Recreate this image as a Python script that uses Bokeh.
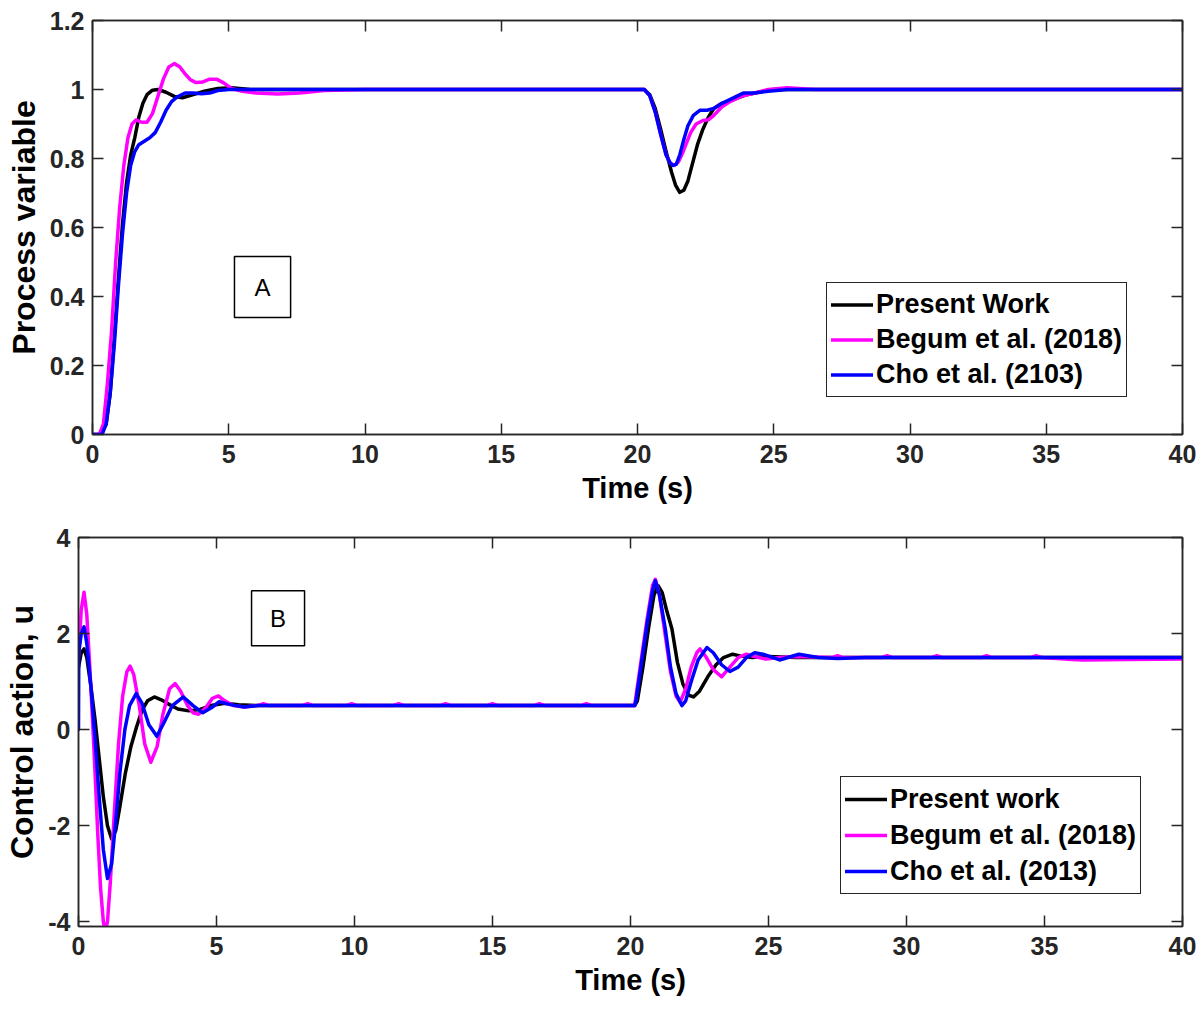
from bokeh.plotting import figure
from bokeh.models import (Range1d, FixedTicker, PrintfTickFormatter, LinearAxis,
                          Legend, LegendItem, BoxAnnotation, Label)
from bokeh.embed import file_html
from bokeh.resources import INLINE

# ---------------- data: panel A (process variable) ----------------
t_pv_pw = [0, 0.3, 0.5, 0.65, 0.8, 0.95, 1.1, 1.25, 1.4, 1.55, 1.7, 1.85, 2.0, 2.2, 2.4, 2.7, 3.0,
           3.3, 3.7, 4.1, 4.6, 5.1, 5.8, 7, 20.25, 20.45, 20.65, 20.85, 21.05, 21.25, 21.4, 21.55,
           21.7, 21.85, 22.0, 22.2, 22.4, 22.6, 22.8, 23.1, 23.5, 24.0, 24.5, 25.0, 26, 40]
pv_pw = [0, 0, 0.03, 0.12, 0.28, 0.45, 0.61, 0.73, 0.81, 0.86, 0.92, 0.96, 0.985, 0.998, 1.0, 0.992,
         0.98, 0.976, 0.985, 0.995, 1.003, 1.005, 1.0, 1.0, 1.0, 0.985, 0.945, 0.885, 0.82, 0.76,
         0.722, 0.702, 0.708, 0.735, 0.78, 0.84, 0.885, 0.92, 0.945, 0.96, 0.97, 0.985, 0.993,
         1.0, 1.0, 1.0]

t_pv_bg = [0, 0.25, 0.4, 0.55, 0.7, 0.85, 1.0, 1.15, 1.3, 1.45, 1.6, 1.8, 2.0, 2.2, 2.4, 2.6, 2.8,
           3.0, 3.2, 3.4, 3.6, 3.8, 4.05, 4.3, 4.55, 4.8, 5.1, 5.5, 6.0, 6.8, 7.6, 8.5, 10, 20.25,
           20.45, 20.65, 20.85, 21.05, 21.2, 21.35, 21.5, 21.65, 21.8, 21.95, 22.15, 22.4, 22.6,
           22.8, 23.1, 23.4, 23.8, 24.3, 24.8, 25.5, 26.5, 40]
pv_bg = [0, 0, 0.03, 0.15, 0.3, 0.5, 0.66, 0.78, 0.86, 0.9, 0.912, 0.905, 0.905, 0.93, 0.98, 1.03,
         1.065, 1.075, 1.066, 1.045, 1.028, 1.02, 1.022, 1.03, 1.03, 1.02, 1.003, 0.995, 0.99,
         0.987, 0.99, 0.997, 1.0, 1.0, 0.982, 0.935, 0.87, 0.81, 0.787, 0.78, 0.79, 0.815, 0.845,
         0.875, 0.9, 0.91, 0.912, 0.925, 0.95, 0.965, 0.98, 0.99, 1.0, 1.005, 1.0, 1.0]

t_pv_cho = [0, 0.35, 0.5, 0.65, 0.8, 0.95, 1.1, 1.25, 1.4, 1.55, 1.7, 1.9, 2.1, 2.3, 2.5, 2.7, 2.9,
            3.1, 3.4, 3.7, 4.0, 4.3, 4.6, 5.0, 6, 20.25, 20.45, 20.65, 20.85, 21.05, 21.2, 21.3,
            21.42, 21.55, 21.7, 21.85, 22.05, 22.3, 22.55, 22.8, 23.1, 23.5, 23.9, 24.3, 24.8,
            25.5, 40]
pv_cho = [0, 0, 0.03, 0.12, 0.26, 0.43, 0.58, 0.70, 0.78, 0.82, 0.84, 0.85, 0.86, 0.875, 0.905,
          0.94, 0.965, 0.978, 0.99, 0.99, 0.988, 0.99, 0.997, 1.0, 1.0, 1.0, 0.982, 0.935, 0.87,
          0.81, 0.787, 0.78, 0.783, 0.81, 0.855, 0.895, 0.925, 0.94, 0.94, 0.945, 0.96, 0.975,
          0.99, 0.99, 0.995, 1.0, 1.0]

# ---------------- data: panel B (control action) ----------------
t_u_pw = [0, 0.1, 0.2, 0.3, 0.45, 0.6, 0.75, 0.9, 1.05, 1.2, 1.35, 1.5, 1.7, 1.9, 2.1, 2.3, 2.5,
          2.75, 3.0, 3.3, 3.6, 4.0, 4.4, 4.8, 5.3, 5.8, 6.5, 20.15, 20.25, 20.45, 20.65, 20.85,
          21.0, 21.15, 21.3, 21.5, 21.7, 21.9, 22.1, 22.28, 22.5, 22.8, 23.1, 23.37, 23.7, 24.0,
          24.4, 25.0, 26, 40]
u_pw = [1.3, 1.6, 1.68, 1.5, 0.9, 0.2, -0.6, -1.4, -2.0, -2.28, -2.1, -1.6, -0.9, -0.35, 0.05,
        0.4, 0.6, 0.68, 0.62, 0.52, 0.43, 0.39, 0.42, 0.5, 0.55, 0.52, 0.5, 0.5, 0.6, 1.3, 2.1,
        2.8, 3.0, 2.85, 2.5, 2.1, 1.4, 0.95, 0.72, 0.68, 0.8, 1.1, 1.35, 1.5, 1.57, 1.53, 1.5,
        1.52, 1.5, 1.5]

t_u_bg = [0, 0.1, 0.2, 0.3, 0.4, 0.5, 0.6, 0.7, 0.8, 0.9, 0.97, 1.05, 1.15, 1.3, 1.45, 1.6, 1.75,
          1.87, 2.0, 2.2, 2.4, 2.62, 2.85, 3.05, 3.3, 3.5, 3.7, 3.95, 4.15, 4.35, 4.6, 4.85, 5.07,
          5.3, 5.6, 6.0, 6.5, 6.7, 6.9, 8.1, 8.3, 8.5, 9.7, 9.9, 10.1, 11.4, 11.6, 11.8, 13.1,
          13.3, 13.5, 14.8, 15.0, 15.2, 16.5, 16.7, 16.9, 18.2, 18.4, 18.6, 20.15, 20.2, 20.4,
          20.6, 20.8, 20.9, 21.05, 21.25, 21.45, 21.65, 21.8, 22.0, 22.2, 22.4, 22.52, 22.75,
          23.0, 23.3, 23.6, 23.9, 24.2, 24.5, 24.9, 25.4, 26.0, 27.3, 27.5, 27.7, 29.1, 29.3,
          29.5, 30.9, 31.1, 31.3, 32.7, 32.9, 33.1, 34.5, 34.7, 34.9, 36.0, 36.4, 38.0, 40]
u_bg = [1.5, 2.5, 2.86, 2.4, 1.4, 0.3, -0.9, -2.2, -3.3, -4.0, -4.2, -4.0, -3.2, -1.7, -0.3, 0.7,
        1.2, 1.32, 1.15, 0.5, -0.3, -0.68, -0.35, 0.3, 0.85, 0.96, 0.8, 0.5, 0.35, 0.32, 0.45,
        0.65, 0.7, 0.6, 0.5, 0.47, 0.5, 0.54, 0.5, 0.5, 0.54, 0.5, 0.5, 0.54, 0.5, 0.5, 0.54,
        0.5, 0.5, 0.54, 0.5, 0.5, 0.54, 0.5, 0.5, 0.54, 0.5, 0.5, 0.54, 0.5, 0.5, 0.7, 1.5, 2.3,
        3.0, 3.13, 2.8, 2.0, 1.2, 0.7, 0.57, 0.85, 1.3, 1.6, 1.68, 1.5, 1.25, 1.1, 1.3, 1.5,
        1.57, 1.52, 1.47, 1.5, 1.52, 1.5, 1.54, 1.5, 1.5, 1.54, 1.5, 1.5, 1.54, 1.5, 1.5, 1.54,
        1.5, 1.5, 1.54, 1.5, 1.46, 1.45, 1.46, 1.47]

t_u_cho = [0, 0.01, 0.1, 0.2, 0.3, 0.45, 0.6, 0.75, 0.9, 1.05, 1.2, 1.35, 1.5, 1.68, 1.85, 2.09,
           2.3, 2.55, 2.84, 3.1, 3.4, 3.8, 4.15, 4.5, 4.8, 5.1, 5.5, 6.0, 6.5, 20.15, 20.2, 20.4,
           20.6, 20.8, 20.9, 21.05, 21.26, 21.45, 21.65, 21.86, 22.0, 22.2, 22.45, 22.77, 23.0,
           23.3, 23.6, 23.9, 24.2, 24.5, 24.8, 25.4, 26.1, 26.8, 27.5, 28.5, 40]
u_cho = [0, 1.6, 2.0, 2.14, 1.8, 0.9, -0.2, -1.4, -2.5, -3.1, -2.8, -1.9, -0.9, 0.0, 0.5, 0.75,
         0.55, 0.1, -0.14, 0.15, 0.5, 0.68, 0.5, 0.35, 0.45, 0.58, 0.52, 0.47, 0.5, 0.5, 0.6,
         1.4, 2.2, 2.9, 3.1, 2.8, 2.1, 1.3, 0.75, 0.5, 0.6, 1.0, 1.45, 1.71, 1.6, 1.35, 1.21,
         1.3, 1.5, 1.6, 1.57, 1.45, 1.57, 1.5, 1.48, 1.5, 1.5]

x_ticks = [0, 5, 10, 15, 20, 25, 30, 35, 40]
pv_ticks = [0, 0.2, 0.4, 0.6, 0.8, 1.0, 1.2]
u_ticks = [-4, -2, 0, 2, 4]

labels_a = ["Present Work", "Begum et al. (2018)", "Cho et al. (2103)"]
labels_b = ["Present work", "Begum et al. (2018)", "Cho et al. (2013)"]

FONT = "Liberation Sans"
AX = "#262626"
COLORS = ["black", "#FF00FF", "#0000FF"]
LW = 3.5


def style_axis(ax, show_labels=True):
    ax.axis_line_color = AX
    ax.axis_line_width = 1.5
    ax.major_tick_line_color = AX
    ax.major_tick_line_width = 1.5
    ax.major_tick_in = 11
    ax.major_tick_out = 0
    ax.minor_tick_line_color = None
    ax.major_label_text_font = FONT
    ax.major_label_text_font_style = "bold"
    ax.major_label_text_color = AX
    ax.axis_label_text_font = FONT
    ax.axis_label_text_font_style = "bold"
    ax.axis_label_text_color = "black"
    if show_labels:
        ax.major_label_text_font_size = "25px"
    else:
        ax.major_label_text_font_size = "1px"
        ax.major_label_text_color = None
        ax.major_label_standoff = 0


def make_panel(height, yr, yticks, yfmt, ylabel, series, labels, border,
               legend_loc, legend_row, box, box_label):
    p = figure(width=1204, height=height, output_backend="svg", toolbar_location=None,
               x_range=Range1d(0, 40), y_range=Range1d(*yr),
               min_border_left=border[0], min_border_right=border[1],
               min_border_top=border[2], min_border_bottom=border[3])
    p.background_fill_color = "white"
    p.border_fill_color = "white"
    p.outline_line_color = AX
    p.outline_line_width = 1.5
    p.grid.visible = False

    p.xaxis.ticker = FixedTicker(ticks=x_ticks)
    p.yaxis.ticker = FixedTicker(ticks=yticks)
    p.yaxis.formatter = PrintfTickFormatter(format=yfmt)
    p.xaxis.axis_label = "Time (s)"
    p.yaxis.axis_label = ylabel
    for ax in p.xaxis:
        style_axis(ax)
        ax.major_label_standoff = 10
        ax.axis_label_standoff = 6
        ax.axis_label_text_font_size = "29px"
    for ax in p.yaxis:
        style_axis(ax)
        ax.major_label_standoff = 8
        ax.axis_label_standoff = 5
        ax.axis_label_text_font_size = "32px"

    top = LinearAxis(ticker=FixedTicker(ticks=x_ticks))
    style_axis(top, show_labels=False)
    p.add_layout(top, "above")
    right = LinearAxis(ticker=FixedTicker(ticks=yticks))
    style_axis(right, show_labels=False)
    p.add_layout(right, "right")

    rends = []
    for (tx, ty), c in zip(series, COLORS):
        r = p.line(tx, ty, line_color=c, line_width=LW, line_join="round", line_cap="round")
        rends.append(r)

    items = [LegendItem(label=lab, renderers=[r]) for lab, r in zip(labels, rends)]
    leg = Legend(items=items, location=legend_loc, orientation="vertical",
                 label_text_font=FONT, label_text_font_style="bold",
                 label_text_font_size="27px", label_text_color="black",
                 glyph_width=42, glyph_height=legend_row, label_height=legend_row,
                 label_standoff=3, spacing=0, padding=4, margin=0,
                 border_line_color=AX, border_line_width=1.5, border_line_alpha=1.0,
                 background_fill_color="white", background_fill_alpha=1.0)
    p.add_layout(leg)

    p.add_layout(BoxAnnotation(left=box[0], right=box[1], bottom=box[2], top=box[3],
                               fill_alpha=0, line_color="black", line_alpha=1.0,
                               line_width=1.5))
    p.add_layout(Label(x=(box[0] + box[1]) / 2, y=(box[2] + box[3]) / 2, text=box_label,
                       text_align="center", text_baseline="middle",
                       text_font=FONT, text_font_size="24px", text_color="black"))
    return p


p1 = make_panel(520, (0, 1.2), pv_ticks, "%g", "Process variable",
                [(t_pv_pw, pv_pw), (t_pv_bg, pv_bg), (t_pv_cho, pv_cho)], labels_a,
                (92, 22, 20, 86), (734, 37), 35, (5.21, 7.27, 0.339, 0.516), "A")
p2 = make_panel(490, (-4.1, 4.0), u_ticks, "%g", "Control action, u",
                [(t_u_pw, u_pw), (t_u_bg, u_bg), (t_u_cho, u_cho)], labels_b,
                (78, 22, 17, 84), (762, 32), 36, (6.27, 8.19, 1.745, 2.89), "B")

open("out.html", "w").write(file_html([p1, p2], INLINE))
